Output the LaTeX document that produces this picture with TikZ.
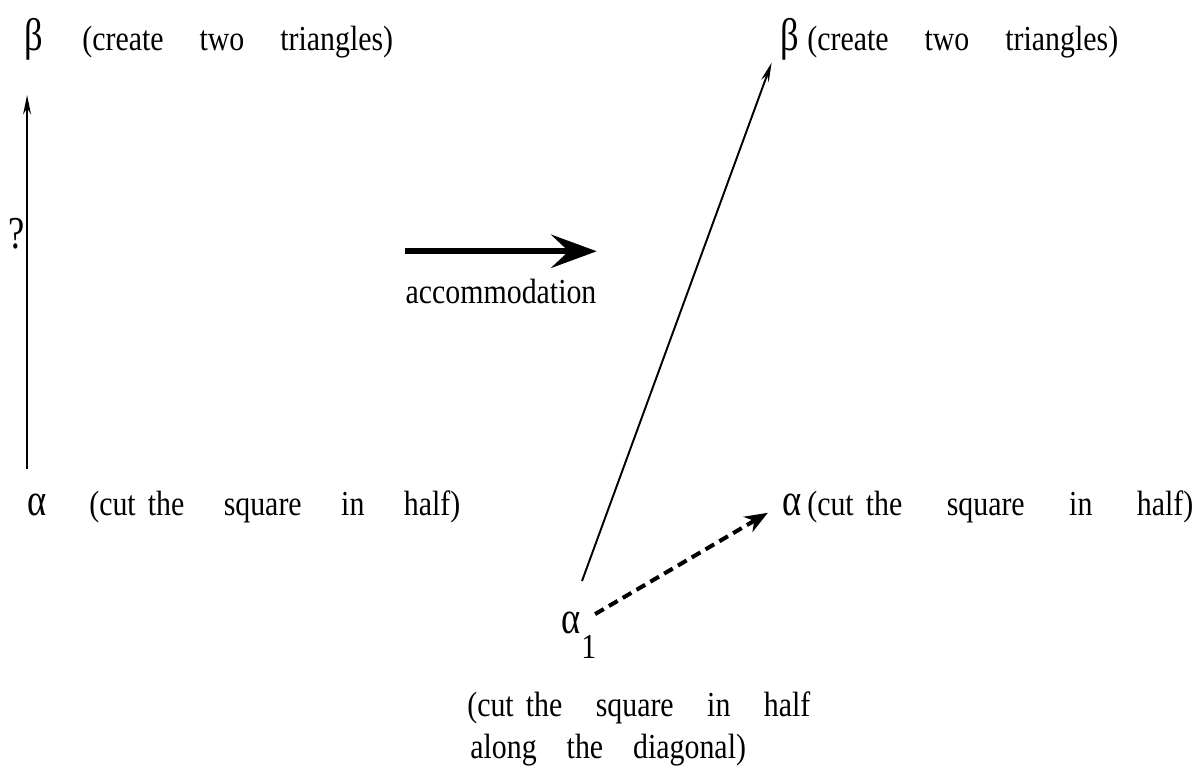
\documentclass[tikz,border=0pt]{standalone}
\usepackage{fontspec}
\setmainfont[FakeStretch=0.85]{Liberation Serif}
\newfontfamily\grk[FakeStretch=0.8]{Liberation Serif}
\usepackage{tikz}
\usetikzlibrary{arrows.meta,positioning,calc}
\tikzset{>=Stealth}
\newcommand{\gp}[1][0.72cm]{\hspace{#1}}
\newcommand{\grkfont}{\fontsize{26}{30}\grk}

\begin{document}
\begin{tikzpicture}[x=0.02cm, y=-0.02cm,
    every node/.style={font=\fontsize{20}{24.4}\selectfont, inner sep=0pt},
    greek/.style={font=\grkfont},
    thin arrow/.style={-{Stealth[length=11pt,width=4.5pt]}, line width=1.1pt},
    big arrow/.style={-{Stealth[length=26pt,width=19pt,inset=10pt]}, line width=3.4pt},
    dash arrow/.style={-{Stealth[length=13pt,width=10pt,inset=4pt]}, line width=2.3pt, dash pattern=on 0.2cm off 0.12cm}]
	\useasboundingbox (0,0) rectangle (1198,771);
	% left scheme
	\node[greek, anchor=base] (betaL) at (34,50) {β};
	\node[anchor=base west] (textBL) at (82,50) {(create\gp two\gp triangles)};
	\node[greek, anchor=base] (alphaL) at (37,515) {α};
	\node[anchor=base west] (textAL) at (89,515) {(cut\gp[0.24cm]the\gp[0.79cm]square\gp[0.79cm]in\gp[0.79cm]half)};
	\draw[thin arrow, shorten <=0.48cm, shorten >=0.7cm] (alphaL.north west) -- (alphaL.north west |- betaL.south)
		node[greek, pos=0.6, left, xshift=-1pt] (qmark) {?};
	% accommodation
	\node[anchor=base] (acc) at (501,303) {accommodation};
	\draw[big arrow] ([yshift=0.54cm]acc.north west) -- ([yshift=0.54cm]acc.north east);
	% right scheme
	\node[greek, anchor=base] (betaR) at (790,50) {β};
	\node[anchor=base west] (textBR) at (807,50) {(create\gp two\gp triangles)};
	\node[greek, anchor=base] (alphaR) at (792,515) {α};
	\node[anchor=base west] (textAR) at (807,515) {(cut\gp[0.24cm]the\gp[0.89cm]square\gp[0.89cm]in\gp[0.89cm]half)};
	\node[greek, anchor=base] (alphaA) at (571,633) {α};
	\node[anchor=base west] (sub1) at ([yshift=-0.5cm]alphaA.base east) {1};
	\node[anchor=north west, align=left] (textA1) at (467,691)
		{(cut\gp[0.24cm]the\gp[0.67cm]square\gp[0.67cm]in\gp[0.67cm]half\\\hspace{0.06cm}along\gp[0.6cm]the\gp[0.6cm]diagonal)};
	\draw[thin arrow, shorten <=0.64cm, shorten >=0.51cm] (alphaA.north) -- (betaR.west);
	\draw[dash arrow, shorten <=0.33cm, shorten >=0.33cm] (alphaA.east) -- (alphaR.west);
\end{tikzpicture}
\end{document}
